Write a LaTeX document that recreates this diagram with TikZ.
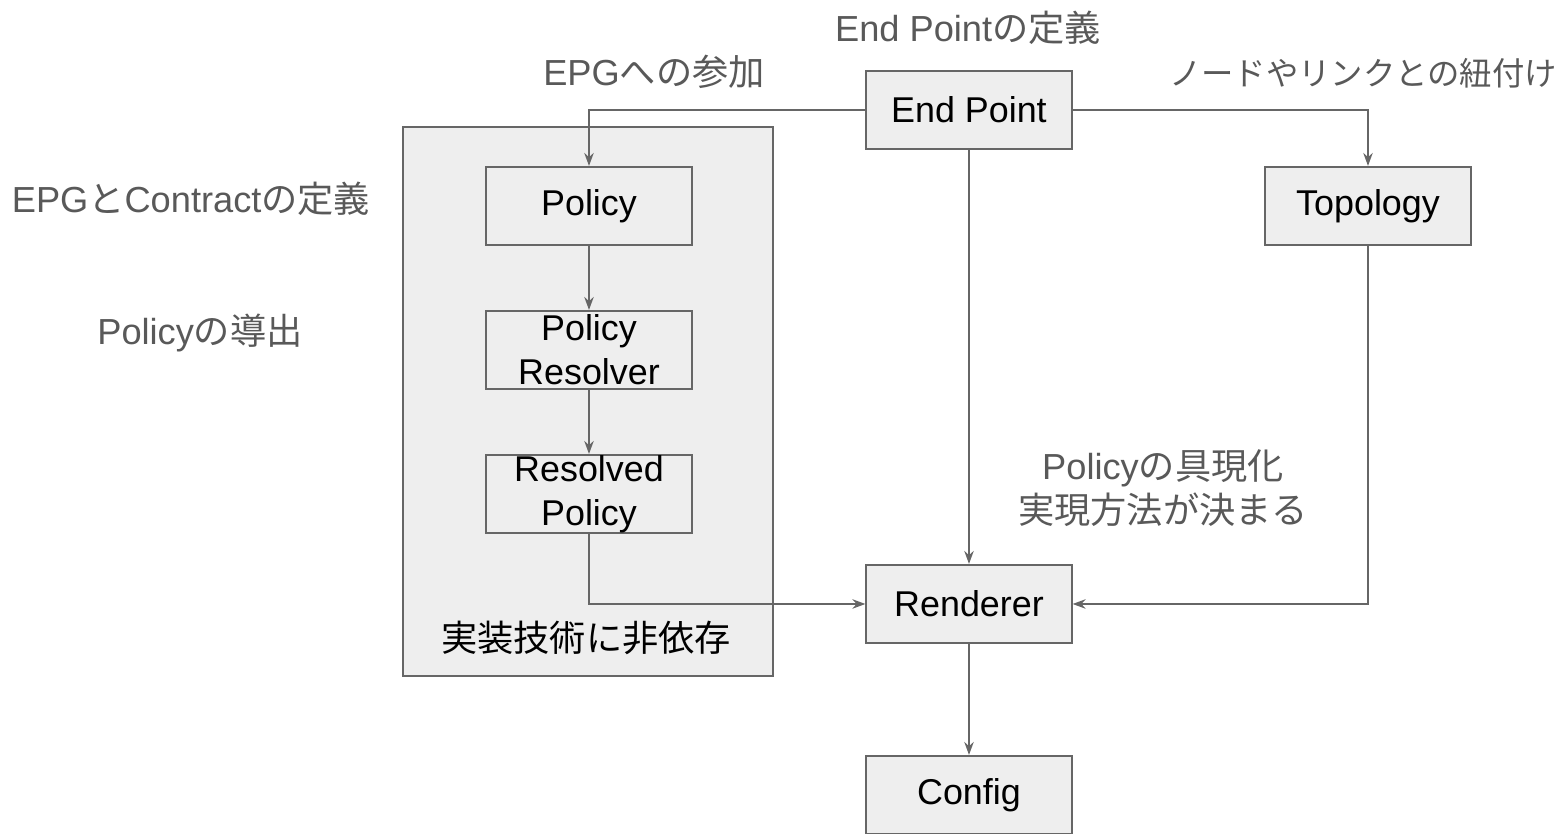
\documentclass[tikz,border=0pt]{standalone}
\usepackage{fontspec}
\setmainfont{Liberation Sans}
\newfontfamily\jp{Noto Sans CJK JP}
\usetikzlibrary{arrows.meta,positioning}
\definecolor{boxfill}{RGB}{238,238,238}
\definecolor{edge}{RGB}{102,102,102}
\definecolor{note}{RGB}{89,89,89}
\tikzset{
  >={Stealth[length=1.3mm,width=0.95mm]},
  comp/.style={draw=edge,fill=boxfill,line width=0.6pt,minimum width=2.05cm,
    minimum height=0.78cm,align=center,inner sep=0pt,font=\fontsize{10.2}{12.6}\selectfont},
  flow/.style={->,line width=0.45pt,draw=edge},
  note/.style={text=note,align=center,font=\fontsize{10.3}{12.6}\selectfont},
}
\begin{document}
\begin{tikzpicture}[x=0.01cm,y=-0.01cm]
  \useasboundingbox (0,0) rectangle (1562,834);
  % implementation-independent group
  \node[draw=edge,fill=boxfill,line width=0.6pt,minimum width=3.7cm,minimum height=5.49cm] (grp) at (588,401.5) {};
  \node[note,text=black] (indep) at (586,638) {\jp 実装技術に非依存};
  % components
  \node[comp] (ep) at (969,110) {End Point};
  \node[comp] (pol) at (589,206) {Policy};
  \node[comp] (topo) at (1368,206) {Topology};
  \node[comp] (res) at (589,350) {Policy\\Resolver};
  \node[comp] (rpol) at (589,494) {Resolved\\Policy};
  \node[comp] (rend) at (969,604) {Renderer};
  \node[comp] (cfg) at (969,795) {Config};
  % notes
  \node[note] (n-ep) at (968,28) {End Point{\jp の定義}};
  \node[note] (n-join) at (654,72) {EPG{\jp への参加}};
  \node[note,font=\fontsize{9.2}{12}\selectfont] (n-link) at (1363,73) {\jp ノードやリンクとの紐付け};
  \node[note] (n-epg) at (191,199) {EPG{\jp と}Contract{\jp の定義}};
  \node[note] (n-der) at (200,333) {Policy{\jp の導出}};
  \node[note] (n-real) at (1163,488) {Policy{\jp の具現化}\\{\jp 実現方法が決まる}};
  % connectors
  \draw[flow] (ep.west) -| (pol.north);
  \draw[flow] (ep.east) -| (topo.north);
  \draw[flow] (ep) -- (rend);
  \draw[flow] (pol) -- (res);
  \draw[flow] (res) -- (rpol);
  \draw[flow] (rpol.south) |- (rend.west);
  \draw[flow] (topo.south) |- (rend.east);
  \draw[flow] (rend) -- (cfg);
\end{tikzpicture}
\end{document}
